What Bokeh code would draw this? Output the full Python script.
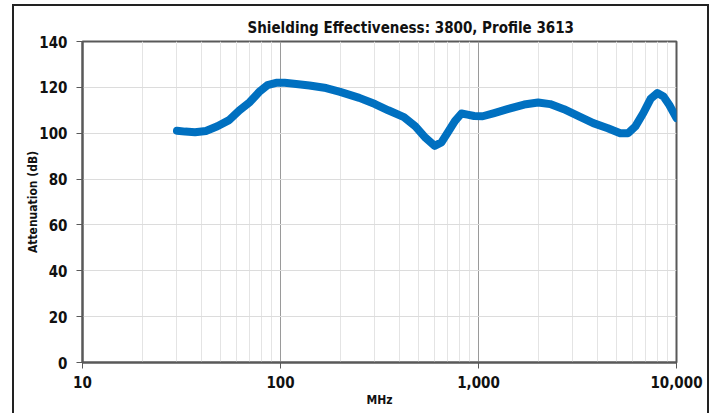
from bokeh.plotting import figure
from bokeh.models import FixedTicker, NumeralTickFormatter, Title, Range1d
from bokeh.embed import file_html
from bokeh.resources import INLINE

# Data
freq_mhz = [30, 33, 37, 42, 48, 55, 62, 70, 78, 86, 95, 105, 120, 140, 170, 200,
            250, 300, 350, 420, 480, 540, 600, 650, 700, 760, 820, 880, 950, 1050,
            1200, 1400, 1700, 2000, 2300, 2700, 3200, 3800, 4500, 5200, 5700, 6200,
            6800, 7400, 8000, 8600, 9200, 10000]
atten_db = [101.1, 100.7, 100.4, 101.0, 103.0, 105.7, 110.0, 113.6, 118.0, 121.0,
            122.0, 122.0, 121.5, 120.8, 119.7, 118.0, 115.4, 112.7, 110.0, 107.0,
            103.0, 98.0, 94.5, 96.0, 100.4, 105.3, 108.6, 108.1, 107.5, 107.4,
            108.8, 110.5, 112.5, 113.4, 112.7, 110.5, 107.5, 104.4, 102.2, 100.0,
            100.0, 103.0, 108.8, 115.0, 117.5, 116.0, 112.3, 106.6]

x_major = [10, 100, 1000, 10000]
x_minor = [20, 30, 40, 50, 60, 70, 80, 90, 200, 300, 400, 500, 600, 700, 800, 900,
           2000, 3000, 4000, 5000, 6000, 7000, 8000, 9000]
y_ticks = [0, 20, 40, 60, 80, 100, 120, 140]

title_text = "Shielding Effectiveness: 3800, Profile 3613"
x_label = "MHz"
y_label = "Attenuation (dB)"

FONT = "DejaVu Sans Condensed"

p = figure(width=697, height=412, x_axis_type="log", output_backend="svg",
           toolbar_location=None, x_range=Range1d(10, 10000), y_range=Range1d(0, 140),
           min_border_left=68, min_border_right=35, min_border_top=35, min_border_bottom=56,
           styles={"border": "2px solid #222", "box-sizing": "border-box",
                   "margin-left": "12px", "margin-top": "4px"})

p.title = None
t = Title(text=title_text, align="left", offset=165, text_font=FONT,
          text_font_size="15px", text_font_style="bold", text_color="#111111")
p.add_layout(t, "above")

p.line(freq_mhz, atten_db, line_color="#0070C0", line_width=8,
       line_join="round", line_cap="round")

p.xaxis.ticker = FixedTicker(ticks=x_major, minor_ticks=x_minor)
p.xaxis.formatter = NumeralTickFormatter(format="0,0")
p.yaxis.ticker = FixedTicker(ticks=y_ticks)

for ax in (p.xaxis, p.yaxis):
    ax.major_label_text_font = FONT
    ax.major_label_text_font_size = "15px"
    ax.major_label_text_font_style = "bold"
    ax.major_label_text_color = "#111111"
    ax.axis_label_text_font = FONT
    ax.axis_label_text_font_style = "bold"
    ax.axis_label_text_font_size = "12px"
    ax.axis_label_text_color = "#111111"
    ax.axis_line_color = "#595959"
    ax.axis_line_width = 2
    ax.major_tick_line_color = "#595959"
    ax.major_tick_in = 0
    ax.major_tick_out = 6
    ax.minor_tick_line_color = None

p.xaxis.axis_label = x_label
p.yaxis.axis_label = y_label
p.xaxis.major_label_standoff = 7
p.xaxis.axis_label_standoff = 2
p.yaxis.major_label_standoff = 9
p.yaxis.axis_label_standoff = -4

p.xgrid.grid_line_color = "#9a9a9a"
p.xgrid.grid_line_width = 1
p.xgrid.minor_grid_line_color = "#e4e4e4"
p.xgrid.minor_grid_line_width = 1
p.ygrid.grid_line_color = "#dcdcdc"
p.ygrid.grid_line_width = 1

p.outline_line_color = "#595959"
p.outline_line_width = 2
p.background_fill_color = "white"
p.border_fill_color = "white"

open("out.html", "w").write(file_html(p, INLINE))
